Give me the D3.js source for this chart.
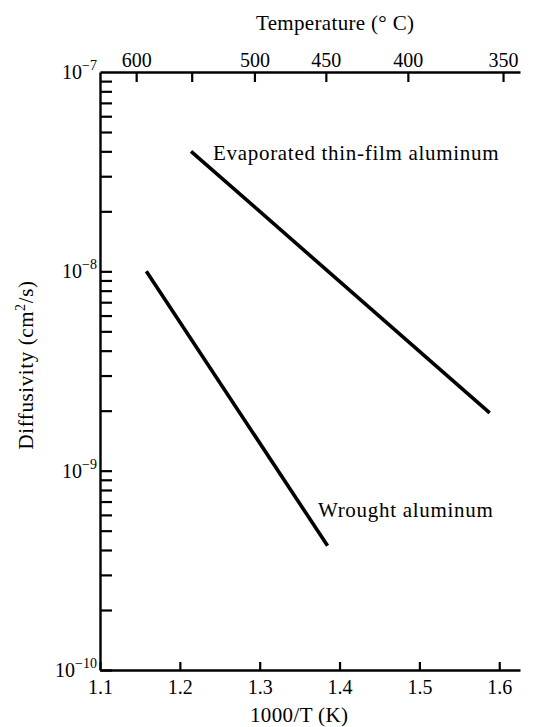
<!DOCTYPE html>
<html>
<head>
<meta charset="utf-8">
<script src="https://cdn.jsdelivr.net/npm/d3@7"></script>
<style>
  html, body { margin: 0; padding: 0; background: #fff; }
  svg text { font-family: "Liberation Serif", "DejaVu Serif", serif; fill: #000; }
</style>
</head>
<body>
<div id="chart"></div>
<script>
// 数据部分
const evapX = [1.214, 1.588];          // 1000/T (K)
const evapY = [4.0e-8, 1.95e-9];       // cm^2/s
const wroughtX = [1.158, 1.385];
const wroughtY = [1.0e-8, 4.2e-10];

const xTicks = [1.1, 1.2, 1.3, 1.4, 1.5, 1.6];
const tempTicks = [600, 550, 500, 450, 400, 350];   // °C
const tempLabels = ['600', '', '500', '450', '400', '350'];
const decades = [1e-10, 1e-9, 1e-8, 1e-7];
const decadeExp = ['10', '9', '8', '7'];

const width = 541, height = 727;
const margin = { left: 100, right: 520, top: 72, bottom: 670 };

const svg = d3.select('#chart')
  .append('svg')
  .attr('width', width)
  .attr('height', height);

// 比例尺
const x = d3.scaleLinear().domain([1.1, 1.626]).range([margin.left, margin.right]);
const y = d3.scaleLog().domain([1e-10, 1e-7]).range([margin.bottom, margin.top]);

// 次刻度 2..9
const minorTicks = [];
decades.slice(0, 3).forEach(d => {
  for (let k = 1; k <= 9; k++) minorTicks.push(d * k);
});

function styleAxis(g) {
  g.attr('font-family', null).attr('font-size', null);
  g.select('.domain').attr('stroke', '#000').attr('stroke-width', 2.4);
  g.selectAll('.tick line').attr('stroke', '#000').attr('stroke-width', 2.2);
  g.selectAll('.tick text').style('font-size', '20px');
}

// 左轴（刻度朝内）
svg.append('g')
  .attr('transform', `translate(${margin.left},0)`)
  .call(d3.axisLeft(y).tickValues(minorTicks).tickSize(-12).tickSizeOuter(0).tickFormat(''))
  .call(styleAxis);

// 底轴
svg.append('g')
  .attr('transform', `translate(0,${margin.bottom})`)
  .call(d3.axisBottom(x).tickValues(xTicks).tickSize(-8).tickSizeOuter(0).tickPadding(10)
    .tickFormat(d3.format('.1f')))
  .call(styleAxis);

// 顶轴（温度）
svg.append('g')
  .attr('transform', `translate(0,${margin.top})`)
  .call(d3.axisTop(x).tickValues(tempTicks.map(c => 1000 / (c + 273.15)))
    .tickSize(-10).tickSizeOuter(0).tickPadding(5)
    .tickFormat((d, i) => tempLabels[i]))
  .call(styleAxis);

// 左轴标签 10^n
const decLabels = svg.append('g');
decades.forEach((d, i) => {
  const t = decLabels.append('text')
    .attr('x', margin.left - 3)
    .attr('y', y(d) + 7)
    .attr('text-anchor', 'end')
    .style('font-size', '20px');
  t.append('tspan').text('10');
  t.append('tspan').attr('dy', -9).style('font-size', '14px').text('\u2212' + decadeExp[i]);
});

// 轴标题
svg.append('text')
  .attr('x', 335).attr('y', 30)
  .attr('text-anchor', 'middle')
  .style('font-size', '21px')
  .attr('textLength', 158)
  .text('Temperature (\u00b0 C)');

svg.append('text')
  .attr('x', 299).attr('y', 722)
  .attr('text-anchor', 'middle')
  .style('font-size', '21px')
  .attr('textLength', 98)
  .text('1000/T (K)');

const yl = svg.append('text')
  .attr('transform', 'translate(33,365) rotate(-90)')
  .attr('text-anchor', 'middle')
  .style('font-size', '21px')
  .style('letter-spacing', '0.6px');
yl.append('tspan').text('Diffusivity (cm');
yl.append('tspan').attr('dy', -8).style('font-size', '14px').text('2');
yl.append('tspan').attr('dy', 8).text('/s)');

// 数据线
const line = d3.line().x(d => x(d[0])).y(d => y(d[1]));
const series = [
  { name: 'Evaporated thin-film aluminum', pts: d3.zip(evapX, evapY), lx: 213, ly: 160 },
  { name: 'Wrought aluminum', pts: d3.zip(wroughtX, wroughtY), lx: 318, ly: 517 }
];

svg.selectAll('path.series')
  .data(series)
  .join('path')
  .attr('class', 'series')
  .attr('d', d => line(d.pts))
  .attr('fill', 'none')
  .attr('stroke', '#000')
  .attr('stroke-width', 3.6);

svg.selectAll('text.series-label')
  .data(series)
  .join('text')
  .attr('class', 'series-label')
  .attr('x', d => d.lx)
  .attr('y', d => d.ly)
  .style('font-size', '21px')
  .style('letter-spacing', '0.7px')
  .text(d => d.name);
</script>
</body>
</html>
